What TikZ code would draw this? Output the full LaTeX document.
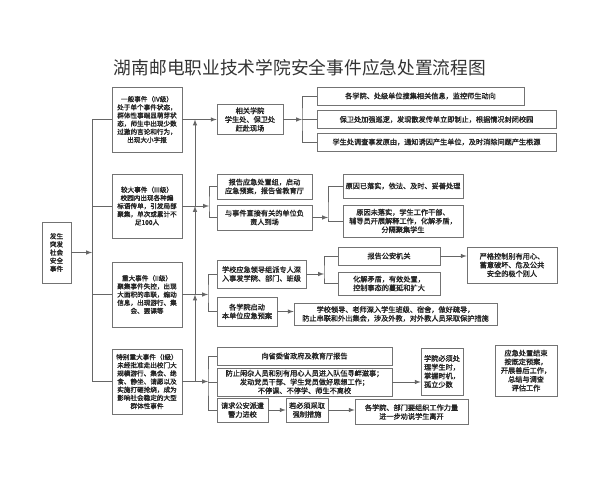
\documentclass[tikz,border=0pt]{standalone}
\usepackage{fontspec}
\setmainfont{Noto Sans CJK SC}
\newfontfamily\bxfont{Noto Sans CJK SC}[FakeBold=1.6]
\usepackage{tikz}
\usetikzlibrary{calc}
\usetikzlibrary{positioning}
\usetikzlibrary{arrows}

\begin{document}
\begin{tikzpicture}[x=0.025cm, y=-0.025cm,
	box/.style={draw=black!55, line width=0.5pt, fill=white, inner sep=0pt, align=center, text=black!85, font=\bxfont\fontsize{5.1}{6.2}\selectfont},
	lvbox/.style={box, font=\bxfont\fontsize{4.7}{5.8}\selectfont},
	arr/.style={-latex, draw=black!60, line width=0.45pt},
	ln/.style={draw=black!60, line width=0.45pt}]
	\useasboundingbox (0,0) rectangle (600,480);

	\node[font=\fontsize{12.6}{14}\selectfont, text=black!80] (title) at (300,68) {湖南邮电职业技术学院安全事件应急处置流程图};

	% left column
	\node[lvbox, minimum width=0.725cm, minimum height=1.525cm] (src) at (56.5,252.5) {发生\\突发\\社会\\安全\\事件};
	\node[lvbox, minimum width=1.75cm, minimum height=1.625cm] (lv4) at (147,119.5) {一般事件（IV级）\\处于单个事件状态，\\群体性事端显萌芽状\\态，师生中出现少数\\过激的言论和行为，\\出现大小字报};
	\node[lvbox, minimum width=1.75cm, minimum height=1.6cm] (lv3) at (147,206) {较大事件（III级）\\校园内出现各种煽\\标语传单，引发局部\\聚集，单次或累计不\\足100人};
	\node[lvbox, minimum width=1.75cm, minimum height=1.625cm] (lv2) at (147,294.5) {重大事件（II级）\\聚集事件失控，出现\\大面积的串联，煽动\\信息，出现游行、集\\会、罢课等};
	\node[lvbox, minimum width=1.75cm, minimum height=1.625cm] (lv1) at (147,381.5) {特别重大事件（I级）\\未经批准走出校门大\\规模游行、集会、绝\\食、静坐、请愿以及\\实施打砸抢烧，成为\\影响社会稳定的大型\\群体性事件};

	\coordinate (bus1) at (92,252.5);
	\coordinate (bus2) at (195,0);
	\draw[arr] (src) -- (bus1);
	\draw[ln] (lv4.west) -| (bus1 |- lv1.west) -- (lv1.west);
	\draw[ln] (bus1 |- lv3.west) -- (lv3.west);
	\draw[ln] (bus1 |- lv2.west) -- (lv2.west);
	\draw[arr] (bus2 |- lv3.east) -- (bus2 |- lv4.east);
	\draw[arr] (bus2 |- lv2.east) -- (bus2 |- lv3.east);
	\draw[arr] (bus2 |- lv1.east) -- (bus2 |- lv2.east);

	% level IV
	\node[box, minimum width=1.65cm, minimum height=0.75cm] (a4) at (250,119.5) {相关学院\\学生处、保卫处\\赶赴现场};
	\node[box, minimum width=5.175cm, minimum height=0.45cm] (b4a) at (420.5,96) {各学院、处级单位搜集相关信息，监控师生动向};
	\node[box, minimum width=5.975cm, minimum height=0.45cm] (b4b) at (436.5,119.5) {保卫处加强巡逻，发现散发传单立即制止，根据情况封闭校园};
	\node[box, minimum width=5.975cm, minimum height=0.45cm] (b4c) at (436.5,142) {学生处调查事发原由，通知诱因产生单位，及时消除问题产生根源};
	\coordinate (j4) at (302,119.5);
	\draw[arr] (lv4.east) -- (a4.west);
	\draw[arr] (a4.east) -- (j4);
	\draw[ln] (b4a.west) -| (j4) |- (b4c.west);
	\draw[ln] (j4) -- (b4b.west);

	% level III
	\node[box, minimum width=2.375cm, minimum height=0.625cm] (a3) at (264.5,186.5) {报告应急处置组，启动\\应急预案，报告省教育厅};
	\node[box, minimum width=2.375cm, minimum height=0.625cm] (b3) at (264.5,217.5) {与事件直接有关的单位负\\责人到场};
	\node[box, minimum width=3cm, minimum height=0.6cm] (c3a) at (403,186) {原因已落实，依法、及时、妥善处理};
	\node[box, minimum width=3cm, minimum height=0.8cm] (c3b) at (403,221) {原因未落实，学生工作干部、\\辅导员开展解释工作，化解矛盾，\\分隔聚集学生};
	\coordinate (j3) at (209,206);
	\coordinate (j3b) at (328,217.5);
	\draw[arr] (lv3.east) -- (j3);
	\draw[ln] (a3.west) -| (j3) |- (b3.west);
	\draw[arr] (b3.east) -- (j3b);
	\draw[ln] (c3a.west) -| (j3b) |- (c3b.west);

	% level II
	\node[box, minimum width=2.225cm, minimum height=0.7cm] (a2) at (261.5,274) {学校应急领导组派专人深\\入事发学院、部门、班级};
	\node[box, minimum width=1.5cm, minimum height=0.725cm] (b2) at (247,311.5) {各学院启动\\本单位应急预案};
	\node[box, minimum width=2.55cm, minimum height=0.45cm] (c2a) at (389,256) {报告公安机关};
	\node[box, minimum width=2.55cm, minimum height=0.575cm] (c2b) at (389,283.5) {化解矛盾，有效处置，\\控制事态的蔓延和扩大};
	\node[box, minimum width=2.25cm, minimum height=0.9cm] (d2) at (512,265) {严格控制别有用心、\\蓄意破坏、危及公共\\安全的极个别人};
	\node[box, minimum width=5.075cm, minimum height=0.55cm] (e2) at (395.5,314) {学校领导、老师深入学生班级、宿舍，做好疏导，\\防止串联和外出集会，涉及外教，对外教人员采取保护措施};
	\coordinate (j2) at (208,294.5);
	\coordinate (j2b) at (324,274);
	\draw[arr] (lv2.east) -- (j2);
	\draw[ln] (a2.west) -| (j2) |- (b2.west);
	\draw[arr] (a2.east) -- (j2b);
	\draw[ln] (c2a.west) -| (j2b) |- (c2b.west);
	\draw[arr] (c2a.east) -- (c2a.east -| d2.west);
	\draw[arr] (b2.east) -- (b2.east -| e2.west);

	% level I
	\node[box, minimum width=4.375cm, minimum height=0.45cm] (a1) at (304.5,356) {向省委省政府及教育厅报告};
	\node[box, minimum width=4.375cm, minimum height=0.7cm] (b1) at (304.5,382) {防止闲杂人员和别有用心人员进入队伍寻衅滋事；\\发动党员干部、学生党员做好思想工作；\\不停课、不停学、师生不离校};
	\node[box, minimum width=1.275cm, minimum height=0.6cm] (c1) at (242.5,410) {请求公安派遣\\警力进校};
	\node[box, minimum width=1.05cm, minimum height=0.6cm] (d1) at (307,410) {若必须采取\\强制措施};
	\node[box, minimum width=2.825cm, minimum height=0.625cm] (e1) at (411.5,412) {各学院、部门要组织工作力量\\进一步劝说学生离开};
	\node[box, align=left, minimum width=1.05cm, minimum height=1.175cm] (f1) at (442,371.5) {学院必须处\\理学生时，\\掌握时机，\\孤立少数};
	\node[box, minimum width=1.55cm, minimum height=1.275cm] (g1) at (526,370.5) {应急处置结束\\按既定预案，\\开展善后工作，\\总结与调查\\评估工作};
	\coordinate (j1) at (208,381.5);
	\draw[arr] (lv1.east) -- (j1);
	\draw[ln] (a1.west) -| (j1) |- (c1.west);
	\draw[ln] (j1 |- b1.west) -- (b1.west);
	\draw[arr] (b1.east) -- (b1.east -| f1.west);
	\draw[arr] (c1.east) -- (c1.east -| d1.west);
	\draw[arr] (d1.east) -- (d1.east -| e1.west);
\end{tikzpicture}
\end{document}
